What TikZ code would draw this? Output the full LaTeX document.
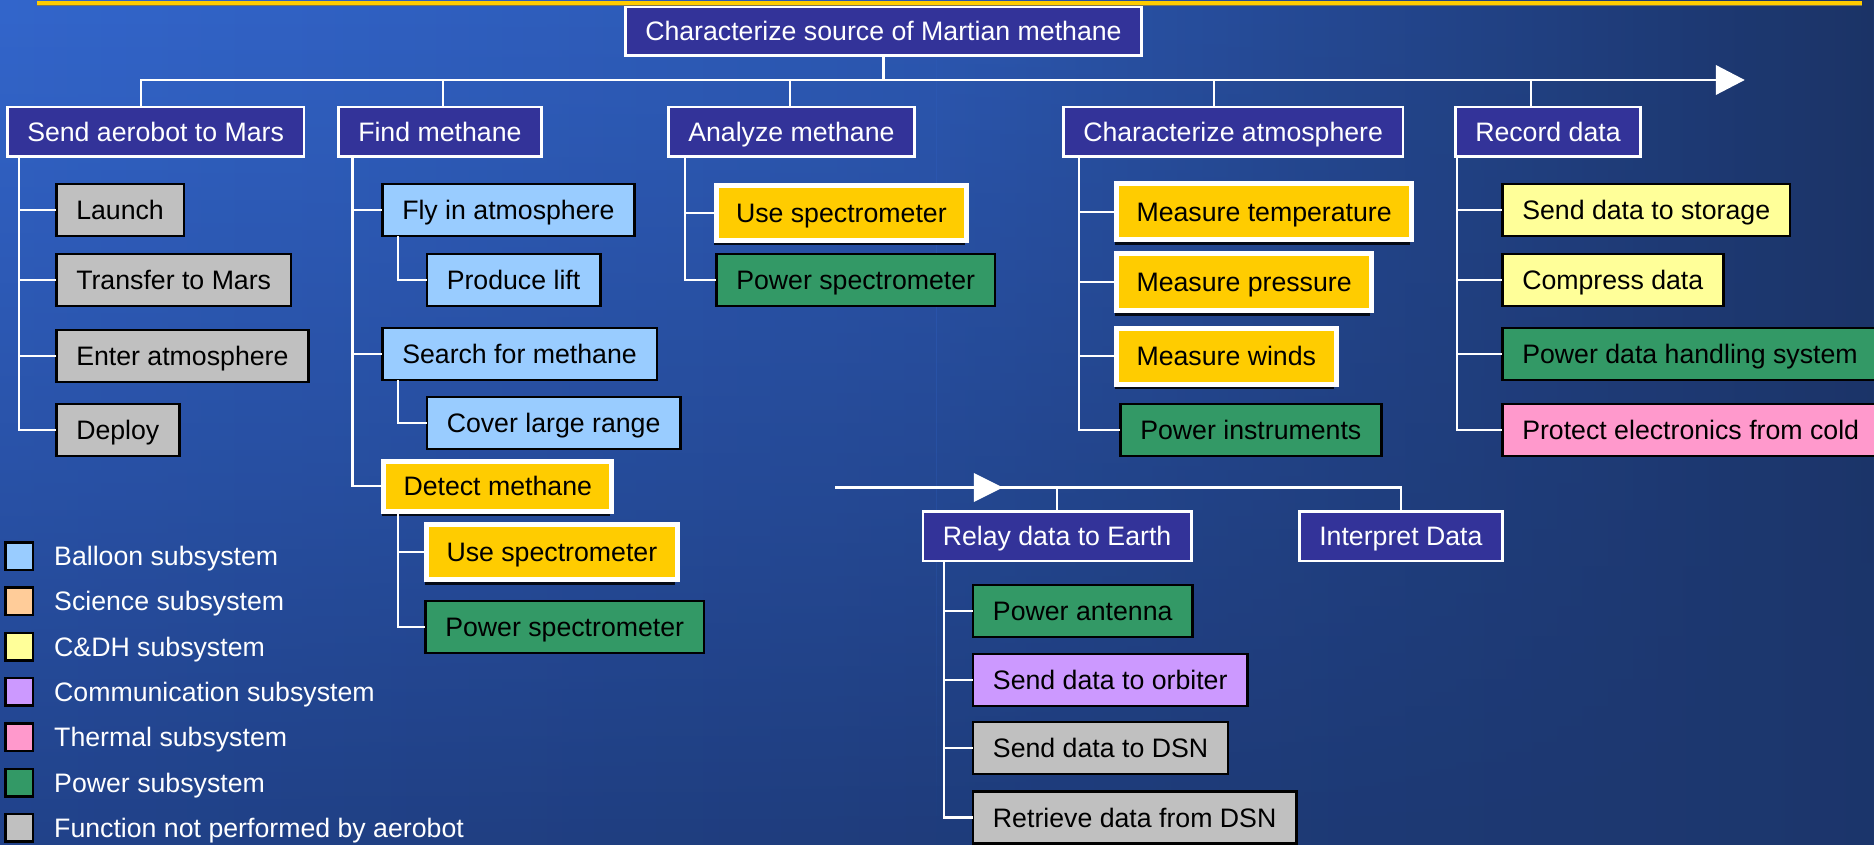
\documentclass[tikz,border=0pt]{standalone}
\usepackage{fontspec}
\setmainfont{Liberation Sans}
\usetikzlibrary{arrows.meta,fadings,shadows}
\definecolor{indigoC}{HTML}{333399}
\definecolor{goldC}{HTML}{FFCC00}
\definecolor{blueC}{HTML}{99CCFF}
\definecolor{greenC}{HTML}{339966}
\definecolor{grayC}{HTML}{C0C0C0}
\definecolor{yellowC}{HTML}{FFFF99}
\definecolor{pinkC}{HTML}{FF99CC}
\definecolor{purpleC}{HTML}{CC99FF}
\definecolor{peachC}{HTML}{FFCC99}
\definecolor{bgTL}{RGB}{51,102,204}
\definecolor{bgTM}{RGB}{44,88,178}
\definecolor{bgTR}{RGB}{27,51,102}
\definecolor{bgBL}{RGB}{33,66,138}
\definecolor{bgBR}{RGB}{28,54,108}
\definecolor{lineY}{HTML}{FFCC00}
\definecolor{lineG}{RGB}{128,120,80}
\begin{document}
\begin{tikzpicture}[x=1pt,y=-1pt,
  every node/.style={font=\fontsize{26.7}{30}\selectfont, text height=19pt, text depth=0pt, inner xsep=20pt, inner ysep=0pt, anchor=west},
  lvl/.style={draw=white, line width=2.5pt, fill=indigoC, text=white, minimum height=49.5pt},
  box/.style={draw=black, line width=2.5pt, text=black, minimum height=52pt},
  goldbox/.style={draw=white, line width=5pt, fill=goldC, text=black, minimum height=55pt,
     drop shadow={shadow xshift=-2pt, shadow yshift=-5pt, opacity=0.85, fill=black}},
  grayb/.style={box, fill=grayC},
  blueb/.style={box, fill=blueC},
  greenb/.style={box, fill=greenC},
  yellowb/.style={box, fill=yellowC},
  pinkb/.style={box, fill=pinkC},
  purpleb/.style={box, fill=purpleC},
  conn/.style={draw=white, line width=2.5pt, line cap=rect},
  arr/.style={draw=white, fill=white, line width=2.5pt},
  legsq/.style={draw=black, line width=2.5pt, minimum width=27.5pt, minimum height=27.5pt, inner sep=0pt, anchor=center, text height=, text depth=},
  legtx/.style={text=white, inner sep=0pt},
]
\useasboundingbox (0,0) rectangle (1874,845);
\clip (0,0) rectangle (1874,845);
% background
\shade[left color=bgBL, right color=bgBR] (0,0) rectangle (1874,845);
\shade[left color=bgTL, right color=bgTM, path fading=south] (0,0) rectangle (937.5,845);
\shade[left color=bgTM, right color=bgTR, path fading=south] (937,0) rectangle (1874,845);
% top rule
\draw[lineG, line width=1.2pt] (37,5.2) -- (1862,5.2);
\draw[lineY, line width=3.2pt] (37,3) -- (1862,3);

% root
\node[lvl, minimum height=48.5pt] (root) at (624,31.5) {Characterize source of Martian methane};

% level 1
\node[lvl] (sa) at (6,132) {Send aerobot to Mars};
\node[lvl] (fm) at (337,132) {Find methane};
\node[lvl] (am) at (667,132) {Analyze methane};
\node[lvl] (ca) at (1062,132) {Characterize atmosphere};
\node[lvl] (rd) at (1454,132) {Record data};

% send aerobot children
\node[grayb] (la) at (55,210) {Launch};
\node[grayb] (tm) at (55,280) {Transfer to Mars};
\node[grayb] (ea) at (55,356) {Enter atmosphere};
\node[grayb] (de) at (55,430) {Deploy};

% find methane children
\node[blueb] (fly) at (381,210) {Fly in atmosphere};
\node[blueb] (pl) at (425.5,280) {Produce lift};
\node[blueb] (sfm) at (381,354) {Search for methane};
\node[blueb] (clr) at (425.5,423) {Cover large range};
\node[goldbox, minimum height=50pt] (dm) at (381,486) {Detect methane};
\node[goldbox] (us1) at (424,552) {Use spectrometer};
\node[greenb] (ps1) at (424,627) {Power spectrometer};

% analyze children
\node[goldbox] (us2) at (713.5,213) {Use spectrometer};
\node[greenb] (ps2) at (715,280) {Power spectrometer};

% characterize atmosphere children
\node[goldbox, minimum height=56pt] (mt) at (1114,212) {Measure temperature};
\node[goldbox, minimum height=57pt] (mp) at (1114,282) {Measure pressure};
\node[goldbox, minimum height=56pt] (mw) at (1114,356) {Measure winds};
\node[greenb] (pi) at (1119,430) {Power instruments};

% record data children
\node[yellowb] (sds) at (1501,210) {Send data to storage};
\node[yellowb] (cd) at (1501,280) {Compress data};
\node[greenb] (pdh) at (1501,354) {Power data handling system};
\node[pinkb] (pec) at (1501,430) {Protect electronics from cold};

% second row
\node[lvl] (relay) at (921.5,536) {Relay data to Earth};
\node[lvl] (interp) at (1298,536) {Interpret Data};
\node[greenb] (pa) at (971.7,611) {Power antenna};
\node[purpleb] (sdo) at (971.7,680) {Send data to orbiter};
\node[grayb] (sdd) at (971.7,748) {Send data to DSN};
\node[grayb] (rdd) at (971.7,817.5) {Retrieve data from DSN};

% legend
\foreach \c/\t [count=\i from 0] in {blueC/Balloon subsystem, peachC/Science subsystem, yellowC/C\&DH subsystem, purpleC/Communication subsystem, pinkC/Thermal subsystem, greenC/Power subsystem, grayC/Function not performed by aerobot}{
  \node[legsq, fill=\c] (lsq\i) at (19,556+45.3*\i) {};
  \node[legtx] (ltx\i) at (54,556+45.3*\i) {\t};
}

% bus
\coordinate (bL) at (141,80);
\coordinate (bR) at (1742,80);
\coordinate (d2) at (443,80);
\coordinate (d3) at (790,80);
\coordinate (d4) at (1214,80);
\coordinate (d5) at (1531,80);
\draw[conn] (root.south) -- (root.south |- bL);
\draw[conn, line cap=butt] (bL) -- (1720,80);
\draw[arr] (bR) -- ++(-25,-13) -- ++(0,26) -- cycle;
\draw[conn] (bL) -- (bL |- sa.north);
\draw[conn] (d2) -- (d2 |- fm.north);
\draw[conn] (d3) -- (d3 |- am.north);
\draw[conn] (d4) -- (d4 |- ca.north);
\draw[conn] (d5) -- (d5 |- rd.north);

% spines
\coordinate (x1) at (19,0);
\coordinate (x2) at (352.6,0);
\coordinate (x2b) at (398,0);
\coordinate (x3) at (685,0);
\coordinate (x4) at (1079,0);
\coordinate (x5) at (1457,0);
\coordinate (x6) at (944,0);
\foreach \n in {la,tm,ea,de}{\draw[conn] (sa.south -| x1) |- (\n.west);}
\foreach \n in {fly,sfm,dm}{\draw[conn] (fm.south -| x2) |- (\n.west);}
\draw[conn] (fly.south -| x2b) |- (pl.west);
\draw[conn] (sfm.south -| x2b) |- (clr.west);
\draw[conn] (dm.south -| x2b) |- (us1.west);
\draw[conn] (dm.south -| x2b) |- (ps1.west);
\foreach \n in {us2,ps2}{\draw[conn] (am.south -| x3) |- (\n.west);}
\foreach \n in {mt,mp,mw,pi}{\draw[conn] (ca.south -| x4) |- (\n.west);}
\foreach \n in {sds,cd,pdh,pec}{\draw[conn] (rd.south -| x5) |- (\n.west);}
\foreach \n in {pa,sdo,sdd,rdd}{\draw[conn] (relay.south -| x6) |- (\n.west);}

% second row connectors
\coordinate (r2s) at (836,487.5);
\coordinate (r2a) at (1000,487.5);
\draw[conn] (r2s) -- (r2a);
\draw[arr] (r2a) -- ++(-25,-12.5) -- ++(0,25) -- cycle;
\draw[conn] (r2a) -| (interp.north);
\draw[conn] (relay.north) -- (relay.north |- r2s);
\end{tikzpicture}
\end{document}
